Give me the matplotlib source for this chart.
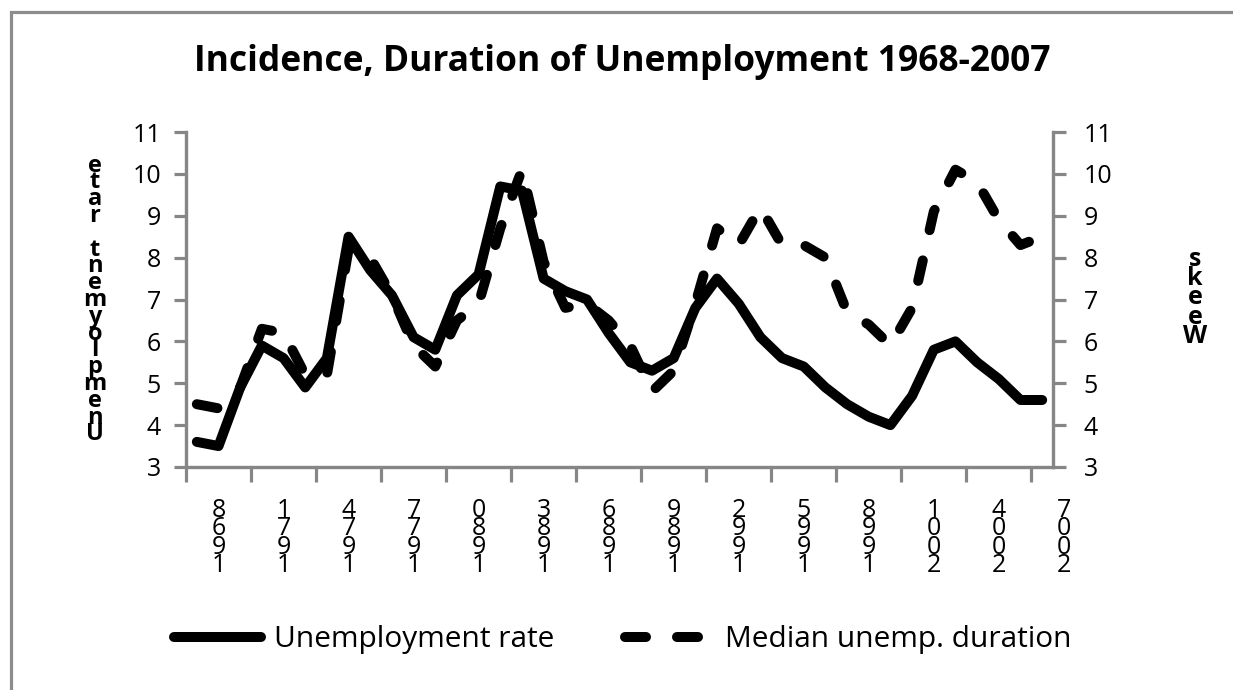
import matplotlib
matplotlib.use("Agg")
import matplotlib.pyplot as plt
from matplotlib.patches import Rectangle

# ---- data ----
years = list(range(1968, 2008))
unemp_rate = [3.6, 3.5, 4.9, 5.9, 5.6, 4.9, 5.6, 8.5, 7.7, 7.1,
              6.1, 5.8, 7.1, 7.6, 9.7, 9.6, 7.5, 7.2, 7.0, 6.2,
              5.5, 5.3, 5.6, 6.8, 7.5, 6.9, 6.1, 5.6, 5.4, 4.9,
              4.5, 4.2, 4.0, 4.7, 5.8, 6.0, 5.5, 5.1, 4.6, 4.6]
median_duration = [4.5, 4.4, 4.9, 6.3, 6.2, 5.2, 5.2, 8.2, 8.0, 7.1,
                   5.9, 5.4, 6.5, 6.9, 8.7, 10.1, 7.9, 6.8, 6.9, 6.5,
                   5.9, 4.8, 5.3, 6.9, 8.7, 8.3, 9.2, 8.3, 8.3, 8.0,
                   6.7, 6.4, 5.9, 6.8, 9.1, 10.1, 9.8, 8.9, 8.3, 8.5]
label_years = years[::3]
y_ticks = list(range(3, 12))
title = "Incidence, Duration of Unemployment 1968-2007"
left_label = "Unemployment rate"
right_label = "Weeks"
series_names = ["Unemployment rate", "Median unemp. duration"]

W, H = 1233, 690
fig = plt.figure(figsize=(W / 100, H / 100), dpi=100)
plt.rcParams['font.family'] = ['Open Sans', 'DejaVu Sans']

axl, axr, axt, axb = 186, 1053, 132, 467
ax = fig.add_axes([axl / W, 1 - axb / H, (axr - axl) / W, (axb - axt) / H])
ax2 = ax.twinx()

GRAY = "#868686"
LW = 7.2
xpos = [i + 0.5 for i in range(len(years))]

l1, = ax.plot(xpos, unemp_rate, color="black", lw=LW, solid_joinstyle="round",
              solid_capstyle="round")
l2, = ax2.plot(xpos, median_duration, color="black", lw=LW,
               dashes=(2.1, 3.1), dash_capstyle="round", dash_joinstyle="round")

for a in (ax, ax2):
    a.set_xlim(0, len(years))
    a.set_ylim(3, 11)
    a.set_yticks(y_ticks)
    a.spines['top'].set_visible(False)
    for s in ('left', 'right', 'bottom'):
        a.spines[s].set_color(GRAY)
        a.spines[s].set_linewidth(2.3)
    a.tick_params(axis='y', colors=GRAY, labelcolor='black', width=2.3,
                  length=9, labelsize=18)
ax.tick_params(axis='y', pad=9)
ax2.tick_params(axis='y', pad=13)

ax.set_xticks(list(range(0, len(years), 3)))
ax.set_xticklabels([])
ax.tick_params(axis='x', colors=GRAY, width=2.3, length=11)

for k, yr in enumerate(label_years):
    ax.annotate("\n".join(reversed(str(yr))), xy=(k * 3 + 1.5, 0),
                xycoords=('data', 'axes fraction'), xytext=(0, -51),
                textcoords='offset points', ha='center', va='center',
                fontsize=18, linespacing=0.66, annotation_clip=False)

ax.set_ylabel("\n".join(reversed(left_label)), rotation=0, fontsize=17,
              fontweight='bold', linespacing=0.6, ha='center', va='center')
ax.yaxis.set_label_coords((95 - axl) / (axr - axl), (axb - 300) / (axb - axt))
ax2.set_ylabel("\n".join(reversed(right_label)), rotation=0, fontsize=18,
               fontweight='bold', linespacing=0.7, ha='center', va='center')
ax2.yaxis.set_label_coords((1195 - axl) / (axr - axl), (axb - 298) / (axb - axt))

fig.text(622 / W, 1 - 62 / H, title, ha='center', va='center',
         fontsize=25.5, fontweight='bold')

fig.legend([l1, l2], series_names, loc='center', bbox_to_anchor=(623 / W, 1 - 640 / H),
           ncol=2, frameon=False, fontsize=21.5, handlelength=2.9,
           handletextpad=0.45, columnspacing=2.35)

fig.patches.append(Rectangle((11 / W, -0.1), 1.2, 1.1 - 12 / H, transform=fig.transFigure,
                             fill=False, edgecolor="#8c8c8c", lw=2.3))

fig.savefig("out.png", dpi=100)
